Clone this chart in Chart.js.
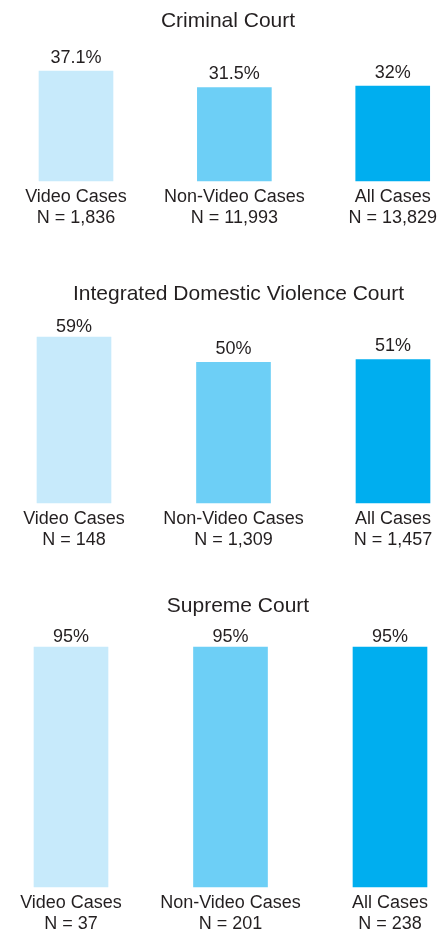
<!DOCTYPE html>
<html>
<head>
<meta charset="utf-8">
<script src="https://cdn.jsdelivr.net/npm/chart.js@4/dist/chart.umd.min.js"></script>
<style>
  html, body { margin: 0; padding: 0; background: #ffffff; overflow: hidden; }
  body { width: 443px; height: 933px; position: relative; }
  canvas { position: absolute; left: 0; }
</style>
</head>
<body>
<canvas id="c1" width="443" height="235" style="top:0px"></canvas>
<canvas id="c2" width="443" height="288" style="top:269px"></canvas>
<canvas id="c3" width="443" height="361" style="top:580px"></canvas>
<script>
// ---- data ----
const categories = ['Video Cases', 'Non-Video Cases', 'All Cases'];
const panelTitles = ['Criminal Court', 'Integrated Domestic Violence Court', 'Supreme Court'];

const criminalValues = [37.1, 31.5, 32];
const criminalN = [1836, 11993, 13829];

const domesticValues = [59, 50, 51];
const domesticN = [148, 1309, 1457];

const supremeValues = [95, 95, 95];
const supremeN = [37, 201, 238];

const barColors = ['#c7eafb', '#6dcff6', '#00aeef'];
const textColor = '#231f20';
const fontFamily = '"Liberation Sans", Arial, Helvetica, sans-serif';

function tickLabels(counts) {
  return categories.map((c, i) => [c, 'N = ' + counts[i].toLocaleString('en-US')]);
}

const panelTitlePlugin = {
  id: 'panelTitle',
  afterDraw(chart, args, opts) {
    const ctx = chart.ctx;
    ctx.save();
    ctx.fillStyle = textColor;
    ctx.font = '21px ' + fontFamily;
    ctx.textAlign = 'center';
    ctx.textBaseline = 'middle';
    ctx.fillText(opts.text, opts.x, opts.y);
    ctx.restore();
  }
};

const valueLabelPlugin = {
  id: 'valueLabels',
  afterDatasetsDraw(chart, args, opts) {
    const ctx = chart.ctx;
    const meta = chart.getDatasetMeta(0);
    const values = chart.data.datasets[0].data;
    ctx.save();
    ctx.fillStyle = textColor;
    ctx.font = '18px ' + fontFamily;
    ctx.textAlign = 'center';
    ctx.textBaseline = 'middle';
    meta.data.forEach((bar, i) => {
      const y = Math.max(bar.y - opts.gap, chart.chartArea.top - opts.topGap);
      ctx.fillText(values[i] + '%', bar.x, y);
    });
    ctx.restore();
  }
};

function makePanel(id, title, values, counts, yMax, pad, titlePos) {
  return new Chart(document.getElementById(id), {
    type: 'bar',
    data: {
      labels: tickLabels(counts),
      datasets: [{
        data: values,
        backgroundColor: barColors,
        borderWidth: 0,
        barThickness: 74,
        clip: false
      }]
    },
    options: {
      responsive: false,
      animation: false,
      devicePixelRatio: 1,
      layout: { padding: pad },
      plugins: {
        legend: { display: false },
        tooltip: { enabled: false },
        title: { display: false },
        panelTitle: { text: title, x: titlePos.x, y: titlePos.y },
        valueLabels: { gap: 13.5, topGap: 10 }
      },
      scales: {
        x: {
          type: 'category',
          offset: false,
          grid: { display: false, drawTicks: false },
          border: { display: false },
          ticks: {
            color: textColor,
            font: { family: fontFamily, size: 18, lineHeight: '21px' },
            padding: 6,
            maxRotation: 0,
            minRotation: 0,
            autoSkip: false
          }
        },
        y: {
          display: false,
          min: 0,
          max: yMax
        }
      }
    },
    plugins: [panelTitlePlugin, valueLabelPlugin]
  });
}

makePanel('c1', panelTitles[0], criminalValues, criminalN, 40.5,
  { top: 61, left: 76, right: 48, bottom: 0 }, { x: 228, y: 21 });
makePanel('c2', panelTitles[1], domesticValues, domesticN, 59,
  { top: 68, left: 74, right: 50, bottom: 0 }, { x: 238.5, y: 25 });
makePanel('c3', panelTitles[2], supremeValues, supremeN, 95,
  { top: 67, left: 71, right: 53, bottom: 0 }, { x: 238, y: 26 });
</script>
</body>
</html>
